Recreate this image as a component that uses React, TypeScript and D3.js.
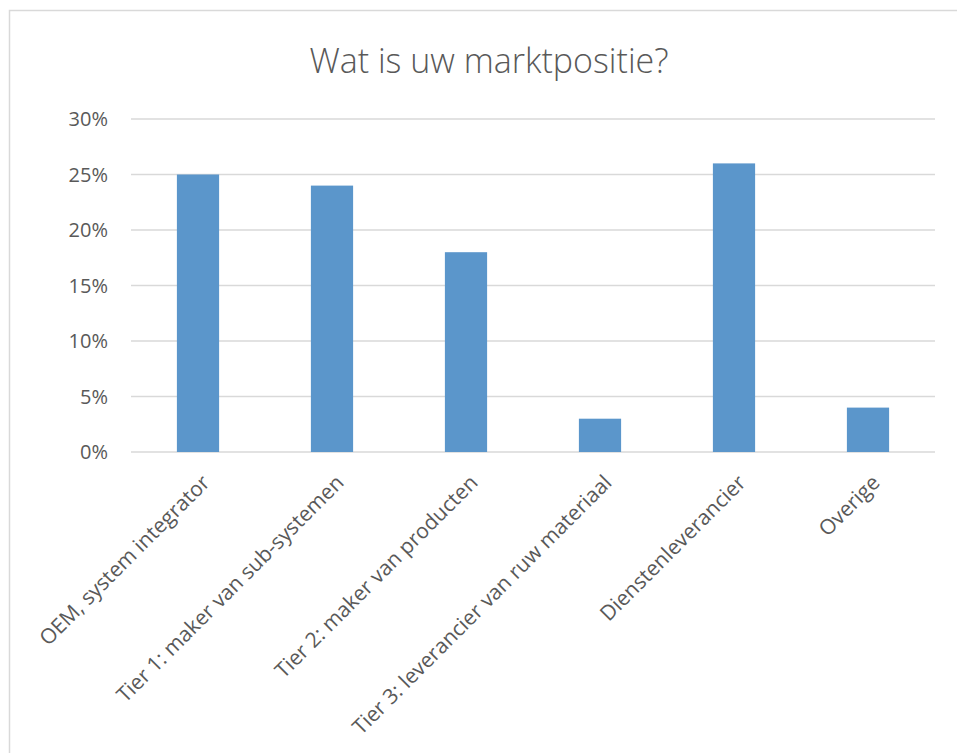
import * as d3 from "d3";
import { useEffect, useRef } from "react";

const categories = [
  "OEM, system integrator",
  "Tier 1: maker van sub-systemen",
  "Tier 2: maker van producten",
  "Tier 3: leverancier van ruw materiaal",
  "Dienstenleverancier",
  "Overige",
];
const values = [0.25, 0.24, 0.18, 0.03, 0.26, 0.04];
const yTicks = [0, 0.05, 0.1, 0.15, 0.2, 0.25, 0.3];

const W = 957;
const H = 753;
const FONT = "'Open Sans', 'Noto Sans', sans-serif";

function App() {
  const ref = useRef<SVGSVGElement>(null);

  useEffect(() => {
    const svg = d3.select(ref.current);
    svg.selectAll("*").remove();

    const left = 131;
    const right = 935;
    const top = 119;
    const bottom = 452;

    svg
      .append("rect")
      .attr("x", 9.5)
      .attr("y", 10.5)
      .attr("width", W + 20)
      .attr("height", H + 20)
      .attr("fill", "#fff")
      .attr("stroke", "#d9d9d9")
      .attr("stroke-width", 1.5);

    const x = d3
      .scaleBand()
      .domain(categories)
      .range([left, right])
      .paddingInner(0.685)
      .paddingOuter(0.3425);
    const y = d3.scaleLinear().domain([0, 0.3]).range([bottom, top]);

    svg
      .append("text")
      .attr("x", 489)
      .attr("y", 73)
      .attr("text-anchor", "middle")
      .attr("font-family", FONT)
      .attr("font-size", 34)
      .attr("font-weight", 300)
      .attr("fill", "#595959")
      .text("Wat is uw marktpositie?");

    const grid = svg.append("g");
    grid
      .selectAll("line")
      .data(yTicks)
      .join("line")
      .attr("x1", left)
      .attr("x2", right)
      .attr("y1", (d) => y(d))
      .attr("y2", (d) => y(d))
      .attr("stroke", "#d9d9d9")
      .attr("stroke-width", 1.3);

    grid
      .selectAll("text")
      .data(yTicks)
      .join("text")
      .attr("x", 108)
      .attr("y", (d) => y(d))
      .attr("dy", "0.35em")
      .attr("text-anchor", "end")
      .attr("font-family", FONT)
      .attr("font-size", 20)
      .attr("fill", "#595959")
      .text((d) => d3.format(".0%")(d));

    svg
      .append("g")
      .selectAll("rect")
      .data(values)
      .join("rect")
      .attr("x", (_, i) => x(categories[i])!)
      .attr("y", (d) => y(d))
      .attr("width", x.bandwidth())
      .attr("height", (d) => y(0) - y(d))
      .attr("fill", "#5b96cb");

    svg
      .append("g")
      .selectAll("text")
      .data(categories)
      .join("text")
      .attr("text-anchor", "end")
      .attr(
        "transform",
        (d) => `translate(${x(d)! + x.bandwidth() / 2 + 13},${bottom + 32}) rotate(-45)`
      )
      .attr("font-family", FONT)
      .attr("font-size", 21)
      .attr("fill", "#595959")
      .text((d) => d);
  });

  return (
    <svg
      ref={ref}
      width={W}
      height={H}
      style={{ position: "absolute", left: 0, top: 0 }}
    />
  );
}

export default App;
